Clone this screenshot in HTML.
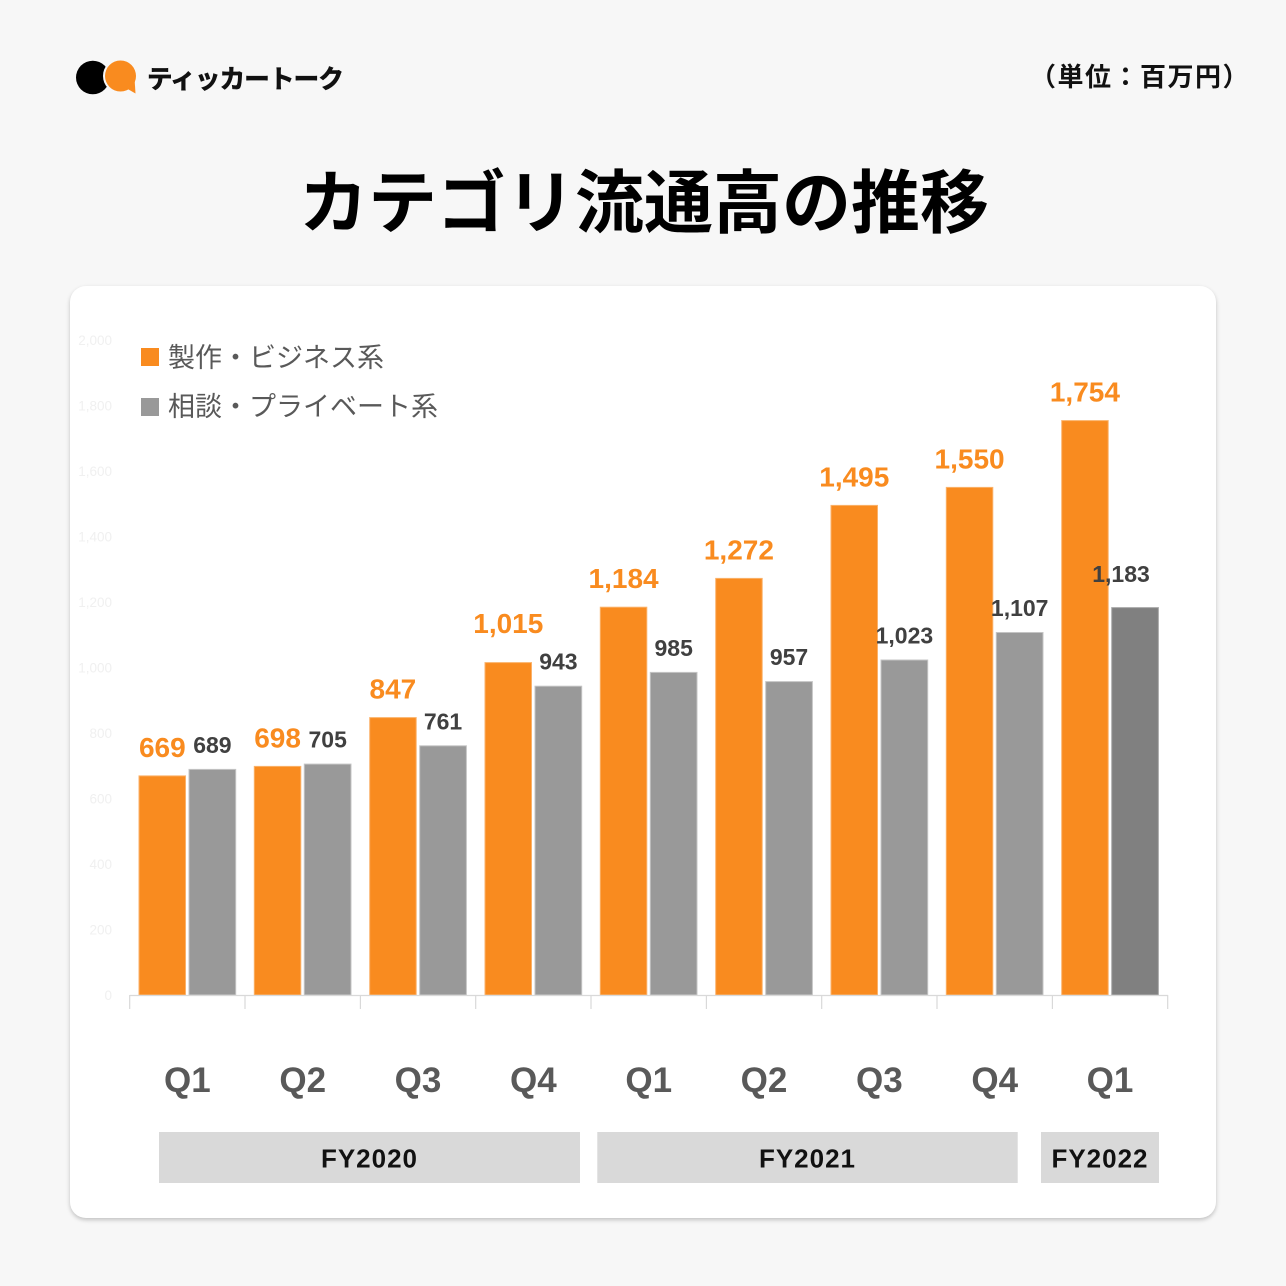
<!DOCTYPE html>
<html>
<head>
<meta charset="utf-8">
<style>
  html, body { margin: 0; padding: 0; }
  body { width: 1286px; height: 1286px; background: #f7f7f7; position: relative; overflow: hidden; }
  .card { position: absolute; left: 70px; top: 286px; width: 1146px; height: 932px; background: #ffffff; border-radius: 16px; box-shadow: 0 2px 4px rgba(0,0,0,0.22); }
  svg { position: absolute; left: 0; top: 0; }
  text { font-family: "Liberation Sans", "Noto Sans CJK JP", sans-serif; }
</style>
</head>
<body>
<div class="card"></div>
<svg width="1286" height="1286" viewBox="0 0 1286 1286" xmlns="http://www.w3.org/2000/svg">
  <!-- Logo -->
  <circle cx="92.8" cy="77.5" r="16.8" fill="#000"/>
  <g stroke="#f7f7f7" stroke-width="4" fill="#f7f7f7">
    <circle cx="120.5" cy="76" r="15.5"/>
    <polygon points="126,88 135.5,93.5 134.5,78"/>
  </g>
  <g fill="#f98b1f">
    <circle cx="120.5" cy="76" r="15.5"/>
    <polygon points="126,88 135.5,93.5 134.5,78"/>
  </g>
  <text x="147" y="88" font-size="25.5" font-weight="700" fill="#111" stroke="#111" stroke-width="0.7" letter-spacing="-0.8">ティッカートーク</text>

  <!-- Unit -->
  <text x="1140" y="86" font-size="26" font-weight="700" fill="#111" text-anchor="middle" letter-spacing="1.5">（単位：百万円）</text>

  <!-- Title -->
  <text x="644" y="227" font-size="69" font-weight="700" fill="#000" text-anchor="middle">カテゴリ流通高の推移</text>

  <!-- Y tick labels (faint) -->
  <g font-size="13.5" fill="#f0f0f0" text-anchor="end">
    <text x="112" y="1000">0</text>
    <text x="112" y="934.5">200</text>
    <text x="112" y="869">400</text>
    <text x="112" y="803.5">600</text>
    <text x="112" y="738">800</text>
    <text x="112" y="672.5">1,000</text>
    <text x="112" y="607">1,200</text>
    <text x="112" y="541.5">1,400</text>
    <text x="112" y="476">1,600</text>
    <text x="112" y="410.5">1,800</text>
    <text x="112" y="345">2,000</text>
  </g>

  <!-- Legend -->
  <rect x="141" y="348" width="18" height="18" fill="#f98b1f"/>
  <text x="168" y="367" font-size="27" fill="#595959">製作・ビジネス系</text>
  <rect x="141" y="398" width="18" height="18" fill="#999999"/>
  <text x="168" y="416" font-size="27" fill="#595959">相談・プライベート系</text>

  <!-- Bars orange -->
  <g fill="#f98b1f" stroke="#fbb26a" stroke-width="1">
    <rect x="139.0" y="775.9" width="46.5" height="219.1"/>
    <rect x="254.3" y="766.4" width="46.5" height="228.6"/>
    <rect x="369.7" y="717.6" width="46.5" height="277.4"/>
    <rect x="485.0" y="662.6" width="46.5" height="332.4"/>
    <rect x="600.3" y="607.2" width="46.5" height="387.8"/>
    <rect x="715.7" y="578.4" width="46.5" height="416.6"/>
    <rect x="831.0" y="505.4" width="46.5" height="489.6"/>
    <rect x="946.3" y="487.4" width="46.5" height="507.6"/>
    <rect x="1061.7" y="420.6" width="46.5" height="574.4"/>
  </g>
  <!-- Bars gray -->
  <g fill="#999999" stroke="#c4c4c4" stroke-width="1">
    <rect x="189.0" y="769.4" width="46.7" height="225.6"/>
    <rect x="304.3" y="764.1" width="46.7" height="230.9"/>
    <rect x="419.7" y="745.8" width="46.7" height="249.2"/>
    <rect x="535.0" y="686.2" width="46.7" height="308.8"/>
    <rect x="650.3" y="672.4" width="46.7" height="322.6"/>
    <rect x="765.7" y="681.6" width="46.7" height="313.4"/>
    <rect x="881.0" y="660.0" width="46.7" height="335.0"/>
    <rect x="996.3" y="632.5" width="46.7" height="362.5"/>
  </g>
  <rect x="1111.7" y="607.6" width="46.7" height="387.4" fill="#808080" stroke="#a8a8a8" stroke-width="1"/>

  <!-- Axis -->
  <g stroke="#d9d9d9" stroke-width="1.2">
    <line x1="129.7" y1="995.5" x2="1168" y2="995.5"/>
    <line x1="129.7" y1="995" x2="129.7" y2="1009"/>
    <line x1="245.0" y1="995" x2="245.0" y2="1009"/>
    <line x1="360.4" y1="995" x2="360.4" y2="1009"/>
    <line x1="475.7" y1="995" x2="475.7" y2="1009"/>
    <line x1="591.0" y1="995" x2="591.0" y2="1009"/>
    <line x1="706.4" y1="995" x2="706.4" y2="1009"/>
    <line x1="821.7" y1="995" x2="821.7" y2="1009"/>
    <line x1="937.0" y1="995" x2="937.0" y2="1009"/>
    <line x1="1052.4" y1="995" x2="1052.4" y2="1009"/>
    <line x1="1167.7" y1="995" x2="1167.7" y2="1009"/>
  </g>

  <!-- Orange value labels -->
  <g font-size="28" font-weight="700" fill="#f98b1f" text-anchor="middle">
    <text x="162.3" y="757">669</text>
    <text x="277.6" y="747.4">698</text>
    <text x="392.9" y="698.6">847</text>
    <text x="508.3" y="633">1,015</text>
    <text x="623.6" y="588.2">1,184</text>
    <text x="738.9" y="559.4">1,272</text>
    <text x="854.3" y="486.4">1,495</text>
    <text x="969.6" y="468.4">1,550</text>
    <text x="1084.9" y="401.6">1,754</text>
  </g>
  <!-- Gray value labels -->
  <g font-size="23" font-weight="700" fill="#404040" text-anchor="middle">
    <text x="212.4" y="752.9">689</text>
    <text x="327.7" y="747.6">705</text>
    <text x="443.0" y="729.3">761</text>
    <text x="558.4" y="669.7">943</text>
    <text x="673.7" y="655.9">985</text>
    <text x="789.0" y="665.1">957</text>
    <text x="904.4" y="643.5">1,023</text>
    <text x="1019.7" y="616">1,107</text>
    <text x="1121" y="582">1,183</text>
  </g>

  <!-- Q labels -->
  <g font-size="35" font-weight="700" fill="#595959" text-anchor="middle">
    <text x="187.4" y="1092">Q1</text>
    <text x="302.7" y="1092">Q2</text>
    <text x="418.0" y="1092">Q3</text>
    <text x="533.4" y="1092">Q4</text>
    <text x="648.7" y="1092">Q1</text>
    <text x="764.0" y="1092">Q2</text>
    <text x="879.4" y="1092">Q3</text>
    <text x="994.7" y="1092">Q4</text>
    <text x="1110.0" y="1092">Q1</text>
  </g>

  <!-- FY boxes -->
  <rect x="159" y="1132" width="421" height="51" fill="#d9d9d9"/>
  <rect x="597.3" y="1132" width="420.4" height="51" fill="#d9d9d9"/>
  <rect x="1041" y="1132" width="118" height="51" fill="#d9d9d9"/>
  <g font-size="26" font-weight="700" fill="#111" text-anchor="middle" letter-spacing="1">
    <text x="369.5" y="1167.5">FY2020</text>
    <text x="807.5" y="1167.5">FY2021</text>
    <text x="1100" y="1167.5">FY2022</text>
  </g>
</svg>
</body>
</html>
